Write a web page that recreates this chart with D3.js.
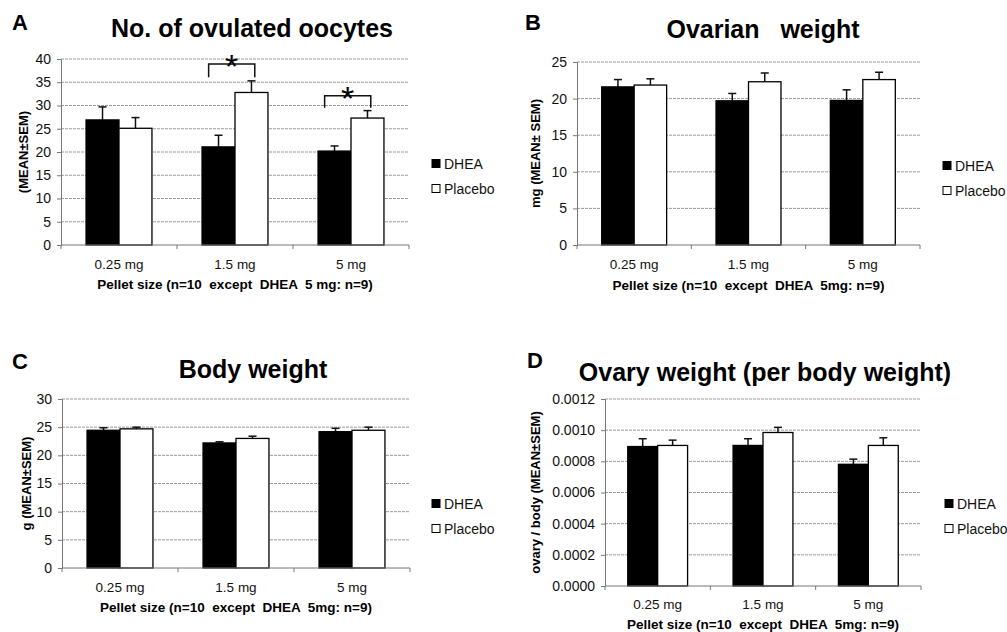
<!DOCTYPE html>
<html>
<head>
<meta charset="utf-8">
<script src="https://cdn.jsdelivr.net/npm/d3@7"></script>
<style>
  body { margin: 0; background: #fff; }
  svg { display: block; font-family: "Liberation Sans", Arial, sans-serif; }
</style>
</head>
<body>
<div id="chart"></div>
<script>
// categories / series
const categories = ["0.25 mg", "1.5 mg", "5 mg"];
const seriesNames = ["DHEA", "Placebo"];

// A: no. of ovulated oocytes
const oocytesDhea = [26.9, 21.1, 20.2];
const oocytesDheaSem = [2.8, 2.5, 1.1];
const oocytesPlacebo = [25.1, 32.8, 27.3];
const oocytesPlaceboSem = [2.3, 2.5, 1.6];
const oocytesTicks = [0, 5, 10, 15, 20, 25, 30, 35, 40];
// significance brackets (bracket top, drop ends)
const oocytesSig = [
  { cat: "1.5 mg", top: 38.9, end: 36.1 },
  { cat: "5 mg", top: 32.1, end: 29.5 }
];

// B: ovarian weight
const ovaryDhea = [21.6, 19.7, 19.75];
const ovaryDheaSem = [1.0, 1.0, 1.45];
const ovaryPlacebo = [21.85, 22.3, 22.6];
const ovaryPlaceboSem = [0.85, 1.2, 1.0];
const ovaryTicks = [0, 5, 10, 15, 20, 25];

// C: body weight
const bodyDhea = [24.45, 22.2, 24.2];
const bodyDheaSem = [0.45, 0.2, 0.6];
const bodyPlacebo = [24.7, 23.0, 24.45];
const bodyPlaceboSem = [0.3, 0.4, 0.55];
const bodyTicks = [0, 5, 10, 15, 20, 25, 30];

// D: ovary / body
const ratioDhea = [0.000895, 0.000902, 0.000781];
const ratioDheaSem = [0.00005, 0.000043, 0.000033];
const ratioPlacebo = [0.000902, 0.000985, 0.000902];
const ratioPlaceboSem = [0.000034, 0.000033, 0.000049];
const ratioTicks = [0, 0.0002, 0.0004, 0.0006, 0.0008, 0.0010, 0.0012];

const W = 1007, H = 632;
const svg = d3.select("#chart").append("svg").attr("width", W).attr("height", H);

const panels = [
  { letter: "A", title: "No. of ovulated oocytes", ylabel: "(MEAN\u00B1SEM)",
    xtitle: "Pellet size (n=10  except  DHEA  5 mg: n=9)",
    dhea: oocytesDhea, dheaSem: oocytesDheaSem, plac: oocytesPlacebo, placSem: oocytesPlaceboSem,
    ticks: oocytesTicks, fmt: d3.format("d"), sig: oocytesSig,
    left: 61, right: 409, top: 59, bottom: 245,
    letterX: 12, letterY: 30, titleX: 252, titleY: 37, ylabX: 25, legX: 432, legY: 164, xtickY: 269, xtitleY: 289 },
  { letter: "B", title: "Ovarian   weight", ylabel: "mg (MEAN\u00B1 SEM)",
    xtitle: "Pellet size (n=10  except  DHEA  5mg: n=9)",
    dhea: ovaryDhea, dheaSem: ovaryDheaSem, plac: ovaryPlacebo, placSem: ovaryPlaceboSem,
    ticks: ovaryTicks, fmt: d3.format("d"), sig: [],
    left: 577, right: 920, top: 62, bottom: 245,
    letterX: 525, letterY: 30, titleX: 763, titleY: 38, ylabX: 537, legX: 943, legY: 166, xtickY: 269, xtitleY: 290 },
  { letter: "C", title: "Body weight", ylabel: "g (MEAN\u00B1SEM)",
    xtitle: "Pellet size (n=10  except  DHEA  5mg: n=9)",
    dhea: bodyDhea, dheaSem: bodyDheaSem, plac: bodyPlacebo, placSem: bodyPlaceboSem,
    ticks: bodyTicks, fmt: d3.format("d"), sig: [],
    left: 62, right: 410, top: 399, bottom: 568,
    letterX: 12, letterY: 369, titleX: 253, titleY: 378, ylabX: 28, legX: 432, legY: 504, xtickY: 592, xtitleY: 612 },
  { letter: "D", title: "Ovary weight (per body weight)", ylabel: "ovary / body (MEAN\u00B1SEM)",
    xtitle: "Pellet size (n=10  except  DHEA  5mg: n=9)",
    dhea: ratioDhea, dheaSem: ratioDheaSem, plac: ratioPlacebo, placSem: ratioPlaceboSem,
    ticks: ratioTicks, fmt: d3.format(".4f"), sig: [],
    left: 605, right: 921, top: 399, bottom: 586,
    letterX: 527, letterY: 368, titleX: 765, titleY: 381, ylabX: 537, legX: 945, legY: 504, xtickY: 609, xtitleY: 629 }
];

panels.forEach(p => drawPanel(p));

function drawPanel(p) {
  const g = svg.append("g");
  const x0 = d3.scaleBand().domain(categories).range([p.left, p.right]).paddingInner(0).paddingOuter(0);
  const x1 = d3.scaleBand().domain(seriesNames).range([0, x0.bandwidth()]).paddingInner(0).paddingOuter(0.76);
  const y = d3.scaleLinear().domain([0, d3.max(p.ticks)]).range([p.bottom, p.top]);

  // grid
  g.selectAll(".grid").data(p.ticks.slice(1)).join("line")
    .attr("x1", p.left).attr("x2", p.right)
    .attr("y1", d => y(d)).attr("y2", d => y(d))
    .attr("stroke", "#9a9a9a").attr("stroke-width", 1).attr("stroke-dasharray", "3,1");

  // y axis
  const yAxis = d3.axisLeft(y).tickValues(p.ticks).tickFormat(p.fmt).tickSize(4).tickPadding(6);
  const ya = g.append("g").attr("transform", `translate(${p.left},0)`).call(yAxis);
  ya.select(".domain").attr("stroke", "#777");
  ya.selectAll(".tick line").attr("stroke", "#777");
  ya.selectAll("text").attr("font-size", 14).attr("fill", "#111");

  // bars
  const rows = categories.map((c, i) => [
    { cat: c, s: "DHEA", v: p.dhea[i], e: p.dheaSem[i] },
    { cat: c, s: "Placebo", v: p.plac[i], e: p.placSem[i] }
  ]).flat();

  // error bars (upper only)
  const capW = 8;
  rows.forEach(r => {
    const cx = x0(r.cat) + x1(r.s) + x1.bandwidth() / 2;
    g.append("line").attr("x1", cx).attr("x2", cx).attr("y1", y(r.v)).attr("y2", y(r.v + r.e))
      .attr("stroke", "#111").attr("stroke-width", 1.5);
    g.append("line").attr("x1", cx - capW / 2).attr("x2", cx + capW / 2)
      .attr("y1", y(r.v + r.e)).attr("y2", y(r.v + r.e))
      .attr("stroke", "#111").attr("stroke-width", 1.5);
  });

  g.selectAll(".bar").data(rows).join("rect")
    .attr("x", d => x0(d.cat) + x1(d.s))
    .attr("y", d => y(d.v))
    .attr("width", x1.bandwidth())
    .attr("height", d => y(0) - y(d.v))
    .attr("fill", d => d.s === "DHEA" ? "#000" : "#fff")
    .attr("stroke", "#000").attr("stroke-width", 1.3);

  // x axis
  g.append("line").attr("x1", p.left).attr("x2", p.right).attr("y1", p.bottom).attr("y2", p.bottom)
    .attr("stroke", "#777");
  const bounds = categories.map(c => x0(c)).concat([p.right]);
  g.selectAll(".xt").data(bounds).join("line")
    .attr("x1", d => d).attr("x2", d => d).attr("y1", p.bottom).attr("y2", p.bottom + 4)
    .attr("stroke", "#777");
  g.selectAll(".xl").data(categories).join("text")
    .attr("x", d => x0(d) + x0.bandwidth() / 2).attr("y", p.xtickY)
    .attr("text-anchor", "middle").attr("font-size", 13.5).attr("fill", "#111")
    .text(d => d);
  g.append("text").attr("x", (p.left + p.right) / 2).attr("y", p.xtitleY)
    .attr("text-anchor", "middle").attr("font-size", 13.5).attr("font-weight", "bold")
    .style("white-space", "pre")
    .text(p.xtitle);

  // y label
  g.append("text")
    .attr("transform", `translate(${p.ylabX},${(p.top + p.bottom) / 2}) rotate(-90)`)
    .attr("text-anchor", "middle").attr("dominant-baseline", "middle")
    .attr("font-size", 13).attr("font-weight", "bold").text(p.ylabel);

  // titles
  g.append("text").attr("x", p.letterX).attr("y", p.letterY)
    .attr("font-size", 22).attr("font-weight", "bold").text(p.letter);
  g.append("text").attr("x", p.titleX).attr("y", p.titleY).attr("text-anchor", "middle")
    .attr("font-size", 25).attr("font-weight", "bold")
    .style("white-space", "pre").text(p.title);

  // legend
  seriesNames.forEach((s, i) => {
    const ly = p.legY + i * 25;
    g.append("rect").attr("x", p.legX).attr("y", ly - 4.5).attr("width", 8).attr("height", 8)
      .attr("fill", s === "DHEA" ? "#000" : "#fff").attr("stroke", "#000").attr("stroke-width", 1);
    g.append("text").attr("x", p.legX + 12).attr("y", ly + 5)
      .attr("font-size", 14).attr("fill", "#111").text(s);
  });

  // significance brackets
  p.sig.forEach(sg => {
    const bx = x0(sg.cat);
    const xl = bx + x1("DHEA") + x1.bandwidth() * 0.2;
    const xr = bx + x1("Placebo") + x1.bandwidth() * 0.6;
    g.append("path")
      .attr("d", `M${xl},${y(sg.end)}V${y(sg.top)}H${xr}V${y(sg.end)}`)
      .attr("fill", "none").attr("stroke", "#111").attr("stroke-width", 1.5);
    g.append("text").attr("x", (xl + xr) / 2).attr("y", y(sg.top) + 14)
      .attr("text-anchor", "middle").attr("font-size", 34)
      .text("*");
  });
}
</script>
</body>
</html>
